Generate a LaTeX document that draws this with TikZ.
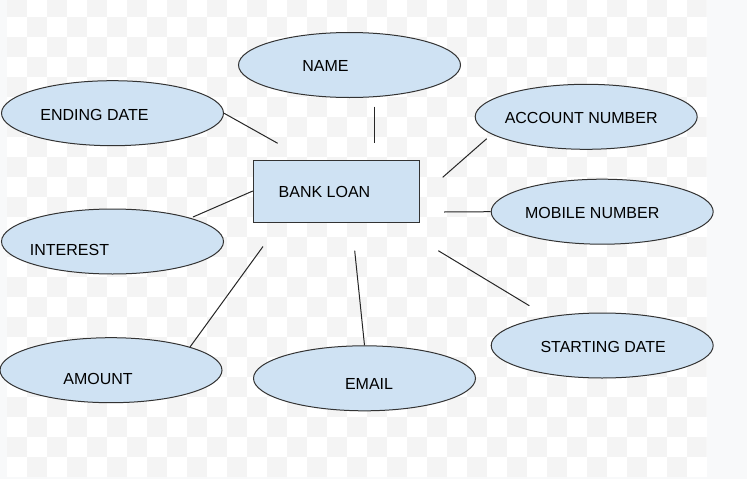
\documentclass[tikz,border=0pt]{standalone}
\usepackage{fontspec}
\setmainfont{Liberation Sans}
\usepackage{tikz}
\usetikzlibrary{shapes.geometric,backgrounds}
\definecolor{attrblue}{HTML}{CFE2F3}
\definecolor{chkgrey}{HTML}{F4F4F4}
\definecolor{edgegrey}{HTML}{F8F9FA}

\begin{document}
\begin{tikzpicture}
[x=0.75pt,y=-0.75pt,font=\fontsize{12}{14}\selectfont,
attr/.style={ellipse,draw=black!80,fill=attrblue,line width=0.75pt,inner sep=0pt,minimum width=166.5pt,minimum height=48.75pt},
entity/.style={rectangle,draw=black!80,fill=attrblue,line width=0.75pt,inner sep=0pt,minimum width=124.8pt,minimum height=46.5pt},
link/.style={draw=black!85,line width=0.75pt}]

% background
\useasboundingbox (0,0) rectangle (747,479);
\fill[edgegrey] (0,0) rectangle (747,479);
\fill[white] (6.7,0) rectangle (706.7,476.7);
\begin{scope}
\clip (6.7,0) rectangle (706.7,476.7);
\foreach \i in {0,...,34}
  \foreach \j in {-1,...,22}
  {\pgfmathparse{int(mod(\i+\j+2,2))}
   \ifnum\pgfmathresult=1 \fill[chkgrey] ({6.7+20*\i},{16.7+20*\j}) rectangle +(20,20); \fi}
\end{scope}

\node[entity] (bank) at (336.5,191) [label={[xshift=-9pt,yshift=-0.75pt]center:BANK LOAN}] {};

\node[attr] (nam) at (349.5,65) [label={[xshift=-18pt,yshift=-0.75pt]center:NAME}] {};
\node[attr] (fin) at (112.5,113.2) [label={[xshift=-13.5pt,yshift=-1.5pt]center:ENDING DATE}] {};
\node[attr] (acc) at (586.2,116.8) [label={[xshift=-3.75pt,yshift=-0.75pt]center:ACCOUNT NUMBER}] {};
\node[attr] (mob) at (602.2,211.7) [label={[xshift=-7.5pt,yshift=-1.1pt]center:MOBILE NUMBER}] {};
\node[attr] (int) at (112.5,241.5) [label={[xshift=-32.25pt,yshift=-6.3pt]center:INTEREST}] {};
\node[attr] (sta) at (602.2,345.5) [label={[xshift=0.75pt,yshift=-1.1pt]center:STARTING DATE}] {};
\node[attr] (amt) at (111,370.2) [label={[xshift=-9.75pt,yshift=-6.75pt]center:AMOUNT}] {};
\node[attr] (eml) at (364.5,378.3) [label={[xshift=3.4pt,yshift=-4.5pt]center:EMAIL}] {};

% free ends
\coordinate (n1) at (374,106.5);
\coordinate (n2) at (374,142.5);
\coordinate (e2) at (277.7,143.3);
\coordinate (a1) at (442.7,177.3);
\coordinate (a2) at (486.7,138.7);
\coordinate (m1) at (444,212);
\coordinate (i1) at (193,217);
\coordinate (s1) at (438.3,250.7);
\coordinate (s2) at (529.3,305.7);
\coordinate (am1) at (190,347);
\coordinate (am2) at (263,246.5);
\coordinate (em1) at (354.7,250.7);

\draw [link] (n1) -- (n2);
\draw [link] (fin.east) -- (e2);
\draw [link] (a1) -- (a2);
\draw [link] (m1) -- (mob.west);
\draw [link] (i1) -- (bank.west);
\draw [link] (s1) -- (s2);
\draw [link] (am1) -- (am2);
\draw [link] (em1) -- (eml.north);
\end{tikzpicture}
\end{document}
